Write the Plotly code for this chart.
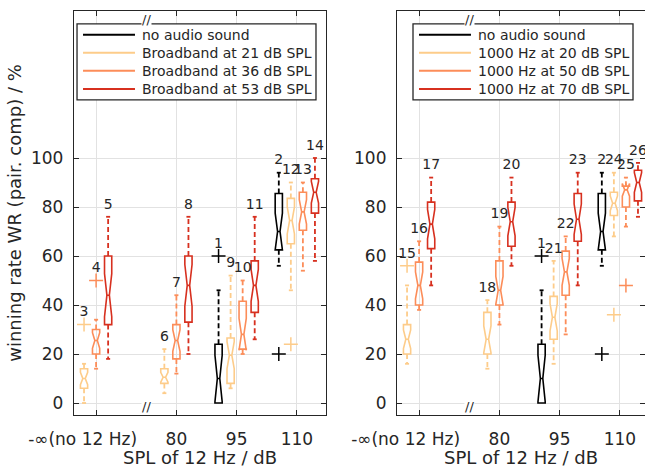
import plotly.graph_objects as go

FONT = "DejaVu Sans"
INK = "#262626"
GRID = "#e2e2e2"

# colours of the stimulus levels (no audio sound, soft, medium, loud)
C_SILENT = "#000000"
C_LOW = "#fdcc8a"
C_MID = "#fc8d59"
C_HIGH = "#d7301f"

# SPL of the 12 Hz tone; "-inf" means no 12 Hz component at all
SPL_TICKTEXT = ["-∞(no 12 Hz)" + "\u00a0" * 5, "80", "95", "110"]

# box statistics of the winning rate / %: whisker ends, quartiles, median, notch half width
silent = dict(spl=[95, 110], lo=[0, 56], q1=[0, 62.5], med=[10, 70], q3=[24, 85.5],
              hi=[46, 94], notch=[9.5, 7.5], out_spl=[95, 110], out_val=[60, 20], ids=[1, 2])

bb21 = dict(spl=["-inf", 80, 95, 110], lo=[0, 4, 6, 46], q1=[6, 8, 8, 65],
            med=[10, 10.5, 19.5, 74.5], q3=[14, 14, 26.5, 83.5], hi=[16, 22, 52, 90],
            notch=[2.5, 2, 5.5, 5.5], out_spl=["-inf", 110], out_val=[32, 24], ids=[3, 6, 9, 12])
bb36 = dict(spl=["-inf", 80, 95, 110], lo=[14, 12, 20, 54], q1=[20, 18, 22, 70.5],
            med=[25.5, 25.5, 28, 78], q3=[30, 32, 41.5, 86], hi=[34, 44, 50, 90],
            notch=[3.2, 4.4, 6.5, 5], out_spl=["-inf"], out_val=[50], ids=[4, 7, 10, 13])
bb53 = dict(spl=["-inf", 80, 95, 110], lo=[18, 20, 26, 58], q1=[32, 33, 37, 77.5],
            med=[44, 48, 48, 86], q3=[60, 60, 58, 91.5], hi=[76, 76, 76, 100],
            notch=[8.8, 8.5, 6.5, 4.4], out_spl=[], out_val=[], ids=[5, 8, 11, 14])

t20 = dict(spl=["-inf", 80, 95, 110], lo=[16, 14, 16, 68], q1=[20, 20, 26, 76.5],
           med=[26, 26, 35, 81.5], q3=[32, 37, 43.5, 86], hi=[48, 42, 58, 94],
           notch=[3.8, 5.5, 5.6, 3], out_spl=["-inf", 110], out_val=[56, 36], ids=[15, 18, 21, 24])
t50 = dict(spl=["-inf", 80, 95, 110], lo=[38, 32, 28, 72], q1=[40, 40, 44, 80],
           med=[48, 46, 53.5, 87], q3=[57.5, 58, 62, 88.5], hi=[66, 72, 68, 92],
           notch=[5.5, 5.7, 5.5, 2.6], out_spl=[110], out_val=[48], ids=[16, 19, 22, 25])
t70 = dict(spl=["-inf", 80, 95, 110], lo=[48, 56, 48, 76], q1=[63, 64, 66, 82.5],
           med=[73, 74, 75, 90], q3=[82, 82, 85.5, 95], hi=[92, 92, 94, 98],
           notch=[6, 5.8, 6.2, 4], out_spl=[], out_val=[], ids=[17, 20, 23, 26])

# (x axis, y axis, legend frame left/right in paper units, series)
PANELS = [
    ("x", "y", (0.0053, 0.4238), [("no audio sound", silent, C_SILENT),
                                  ("Broadband at 21 dB SPL", bb21, C_LOW),
                                  ("Broadband at 36 dB SPL", bb36, C_MID),
                                  ("Broadband at 53 dB SPL", bb53, C_HIGH)]),
    ("x2", "y2", (0.5937, 0.9790), [("no audio sound", silent, C_SILENT),
                                    ("1000 Hz at 20 dB SPL", t20, C_LOW),
                                    ("1000 Hz at 50 dB SPL", t50, C_MID),
                                    ("1000 Hz at 70 dB SPL", t70, C_HIGH)]),
]

# axis position of each SPL level; "no 12 Hz" is placed left of the axis break
AXIS_POS = {"-inf": 60, 80: 80, 95: 95, 110: 110}
TICKVALS = [60, 80, 95, 110]
BREAK_AT = 72.5
SLOT = 3.0        # spacing of neighbouring boxes in one group
BOX_W = 1.8
CAP_HALF = 0.5

# legend frame, in paper units of the plot area
LEG_TOP, LEG_BOTTOM = 0.968, 0.780
LEG_ROW0, LEG_ROW_STEP = 0.941, 0.0446
LEG_PAD, LEG_LINE, LEG_GAP = 0.0105, 0.091, 0.0088

fig = go.Figure()
shapes, notes = [], []

for xa, ya, (lx0, lx1), series in PANELS:
    # how many boxes share each SPL group
    counts = {}
    for _, s, _ in series:
        for lev in s["spl"]:
            counts[lev] = counts.get(lev, 0) + 1
    seen = {}
    centres = []
    for _, s, _ in series:
        xs = []
        for lev in s["spl"]:
            k = seen.get(lev, 0)
            seen[lev] = k + 1
            xs.append(AXIS_POS[lev] + (k - (counts[lev] - 1) / 2) * SLOT)
        centres.append(xs)

    for (name, s, col), xs in zip(series, centres):
        fig.add_trace(go.Box(
            x=xs, q1=s["q1"], median=s["med"], q3=s["q3"],
            lowerfence=s["q1"], upperfence=s["q3"],
            notched=True, notchspan=s["notch"], notchwidth=0.33,
            width=BOX_W, whiskerwidth=0, orientation="v", boxpoints=False,
            line=dict(color=col, width=1.6), fillcolor="rgba(0,0,0,0)",
            name=name, showlegend=False, hoverinfo="skip", xaxis=xa, yaxis=ya))

        wx, wy, cx, cy = [], [], [], []
        for x, q1, q3, lo, hi in zip(xs, s["q1"], s["q3"], s["lo"], s["hi"]):
            if hi > q3:
                wx += [x, x, None]
                wy += [q3, hi, None]
                cx += [x - CAP_HALF, x + CAP_HALF, None]
                cy += [hi, hi, None]
            if lo < q1:
                wx += [x, x, None]
                wy += [q1, lo, None]
                cx += [x - CAP_HALF, x + CAP_HALF, None]
                cy += [lo, lo, None]
        fig.add_trace(go.Scatter(x=wx, y=wy, mode="lines",
                                 line=dict(color=col, width=1.8, dash="5px,3px"),
                                 showlegend=False, hoverinfo="skip", xaxis=xa, yaxis=ya))
        fig.add_trace(go.Scatter(x=cx, y=cy, mode="lines", line=dict(color=col, width=1.8),
                                 showlegend=False, hoverinfo="skip", xaxis=xa, yaxis=ya))

        if s["out_val"]:
            ox = [xs[s["spl"].index(lev)] for lev in s["out_spl"]]
            fig.add_trace(go.Scatter(
                x=ox, y=s["out_val"], mode="markers",
                marker=dict(symbol="cross-thin", size=10, color=col,
                            line=dict(color=col, width=1.5)),
                showlegend=False, hoverinfo="skip", xaxis=xa, yaxis=ya))

        # condition number above the highest mark of each box
        tops = []
        for lev, hi in zip(s["spl"], s["hi"]):
            above = [v for l, v in zip(s["out_spl"], s["out_val"]) if l == lev]
            tops.append(max([hi] + above))
        fig.add_trace(go.Scatter(
            x=xs, y=tops, mode="text+markers", text=[str(i) for i in s["ids"]],
            marker=dict(size=6, opacity=0),
            textposition="top center", textfont=dict(family=FONT, size=14, color=INK),
            cliponaxis=False, showlegend=False, hoverinfo="skip", xaxis=xa, yaxis=ya))

    # legend: framed box with a line sample and the name of every series
    shapes.append(dict(type="rect", xref="paper", yref="paper", x0=lx0, x1=lx1,
                       y0=LEG_BOTTOM, y1=LEG_TOP, fillcolor="white",
                       line=dict(color=INK, width=1.3), layer="above"))
    for i, (name, s, col) in enumerate(series):
        yy = LEG_ROW0 - i * LEG_ROW_STEP
        shapes.append(dict(type="line", xref="paper", yref="paper",
                           x0=lx0 + LEG_PAD, x1=lx0 + LEG_PAD + LEG_LINE, y0=yy, y1=yy,
                           line=dict(color=col, width=2), layer="above"))
        notes.append(dict(xref="paper", yref="paper", x=lx0 + LEG_PAD + LEG_LINE + LEG_GAP,
                          y=yy, text=name, showarrow=False, xanchor="left", yanchor="middle",
                          font=dict(family=FONT, size=14, color=INK)))

axis_common = dict(
    showline=True, linecolor=INK, linewidth=1.3, mirror="ticks",
    ticks="inside", ticklen=5, tickwidth=1.3, tickcolor=INK,
    showgrid=True, gridcolor=GRID, gridwidth=1, zeroline=False, automargin=False,
    tickfont=dict(family=FONT, size=17, color=INK),
)
x_common = dict(axis_common, tickmode="array", tickvals=TICKVALS, ticktext=SPL_TICKTEXT,
                ticklabelstandoff=8, tickangle=0,
                title=dict(text="SPL of 12 Hz / dB", font=dict(family=FONT, size=18, color=INK),
                           standoff=2))
y_common = dict(axis_common, tickmode="array", tickvals=[0, 20, 40, 60, 80, 100],
                range=[-4.9, 160], ticklabelstandoff=6)

fig.update_layout(
    width=645, height=468,
    margin=dict(l=74, r=0, t=11, b=53),
    paper_bgcolor="white", plot_bgcolor="white",
    font=dict(family=FONT, color=INK),
    boxmode="overlay", showlegend=False,
    xaxis=dict(x_common, domain=[0, 0.4413], range=[54.5, 117.25], anchor="y"),
    xaxis2=dict(x_common, domain=[0.5657, 1], range=[54.5, 116.25], anchor="y2"),
    yaxis=dict(y_common, domain=[0, 1], anchor="x",
               title=dict(text="winning rate WR (pair. comp) / %",
                          font=dict(family=FONT, size=18, color=INK), standoff=4)),
    yaxis2=dict(y_common, domain=[0, 1], anchor="x2"),
    shapes=shapes,
    annotations=notes,
)

# axis break marks between "no 12 Hz" and 80 dB
for xr in ("x", "x2"):
    for yp in (0, 1):
        fig.add_annotation(x=BREAK_AT, y=yp, xref=xr, yref="paper", text="//",
                           showarrow=False, bgcolor="white", borderpad=0,
                           font=dict(family=FONT, size=13, color=INK))

fig.write_html("out.html")
